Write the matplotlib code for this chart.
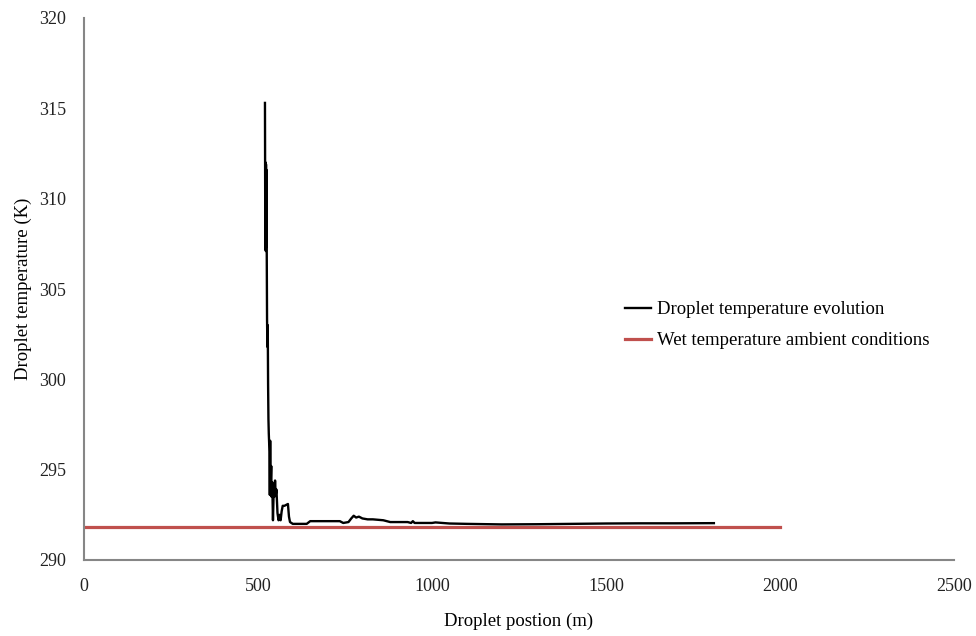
import matplotlib
matplotlib.use("Agg")
import matplotlib.pyplot as plt

# Droplet temperature evolution (position in m, temperature in K)
pos_m = [520, 521, 522, 522.5, 523, 523.5, 524, 525, 526, 527, 528, 529, 530, 531,
         533, 534, 535, 536, 538, 539, 541, 543, 545, 547, 549, 551, 553, 556, 559,
         562, 565, 568, 571, 576, 586, 589, 592, 600, 640, 650, 700, 735, 745, 760,
         768, 775, 782, 790, 800, 815, 830, 860, 880, 930, 940, 945, 950, 1000, 1010,
         1050, 1100, 1200, 1300, 1400, 1500, 1600, 1700, 1810]
temp_K = [315.3, 307.2, 312.0, 307.1, 311.9, 307.3, 311.6, 307.5, 303.3, 301.8, 303.0,
          299.7, 297.8, 297.0, 296.0, 293.6, 296.6, 294.0, 295.2, 293.5, 294.3, 292.2,
          293.8, 293.5, 294.4, 293.6, 293.9, 292.6, 292.2, 292.5, 292.2, 292.7, 293.0,
          293.0, 293.1, 292.4, 292.1, 292.0, 292.0, 292.15, 292.15, 292.15, 292.05,
          292.1, 292.3, 292.45, 292.35, 292.4, 292.3, 292.25, 292.25, 292.2, 292.1,
          292.1, 292.05, 292.15, 292.05, 292.05, 292.08, 292.02, 292.0, 291.97, 291.98,
          292.0, 292.02, 292.03, 292.03, 292.04]

# Wet-bulb ambient temperature
wet_pos = [0, 2000]
wet_temp = [291.85, 291.85]

x_ticks = [0, 500, 1000, 1500, 2000, 2500]
y_ticks = [290, 295, 300, 305, 310, 315, 320]

plt.rcParams['font.family'] = ['Liberation Serif', 'DejaVu Serif']

fig = plt.figure(figsize=(9.76, 6.36), dpi=100)
ax = fig.add_axes([84/976, 1 - 560/636, (954-84)/976, (560-18)/636])

ax.plot(pos_m, temp_K, color='black', lw=1.7, label='Droplet temperature evolution', zorder=3)
ax.plot(wet_pos, wet_temp, color='#C0504D', lw=2.3, label='Wet temperature ambient conditions', zorder=2)

ax.set_xlim(0, 2500)
ax.set_ylim(290, 320)
ax.set_xticks(x_ticks)
ax.set_yticks(y_ticks)
ax.tick_params(length=0, labelsize=13, colors='#222222')
ax.tick_params(axis='y', pad=13)
ax.tick_params(axis='x', pad=13)
for s in ['top', 'right']:
    ax.spines[s].set_visible(False)
for s in ['left', 'bottom']:
    ax.spines[s].set_color('#868686')
    ax.spines[s].set_linewidth(1.5)

ax.set_xlabel('Droplet postion (m)', fontsize=13.5, labelpad=13)
ax.set_ylabel('Droplet temperature (K)', fontsize=13.5, labelpad=5)

fig.legend(loc='upper left', bbox_to_anchor=(625/976, 1 - 301/636), frameon=False,
           fontsize=13.5, handlelength=1.4, handletextpad=0.3, labelspacing=0.75,
           borderaxespad=0, borderpad=0)

fig.savefig('out.png', dpi=100)
